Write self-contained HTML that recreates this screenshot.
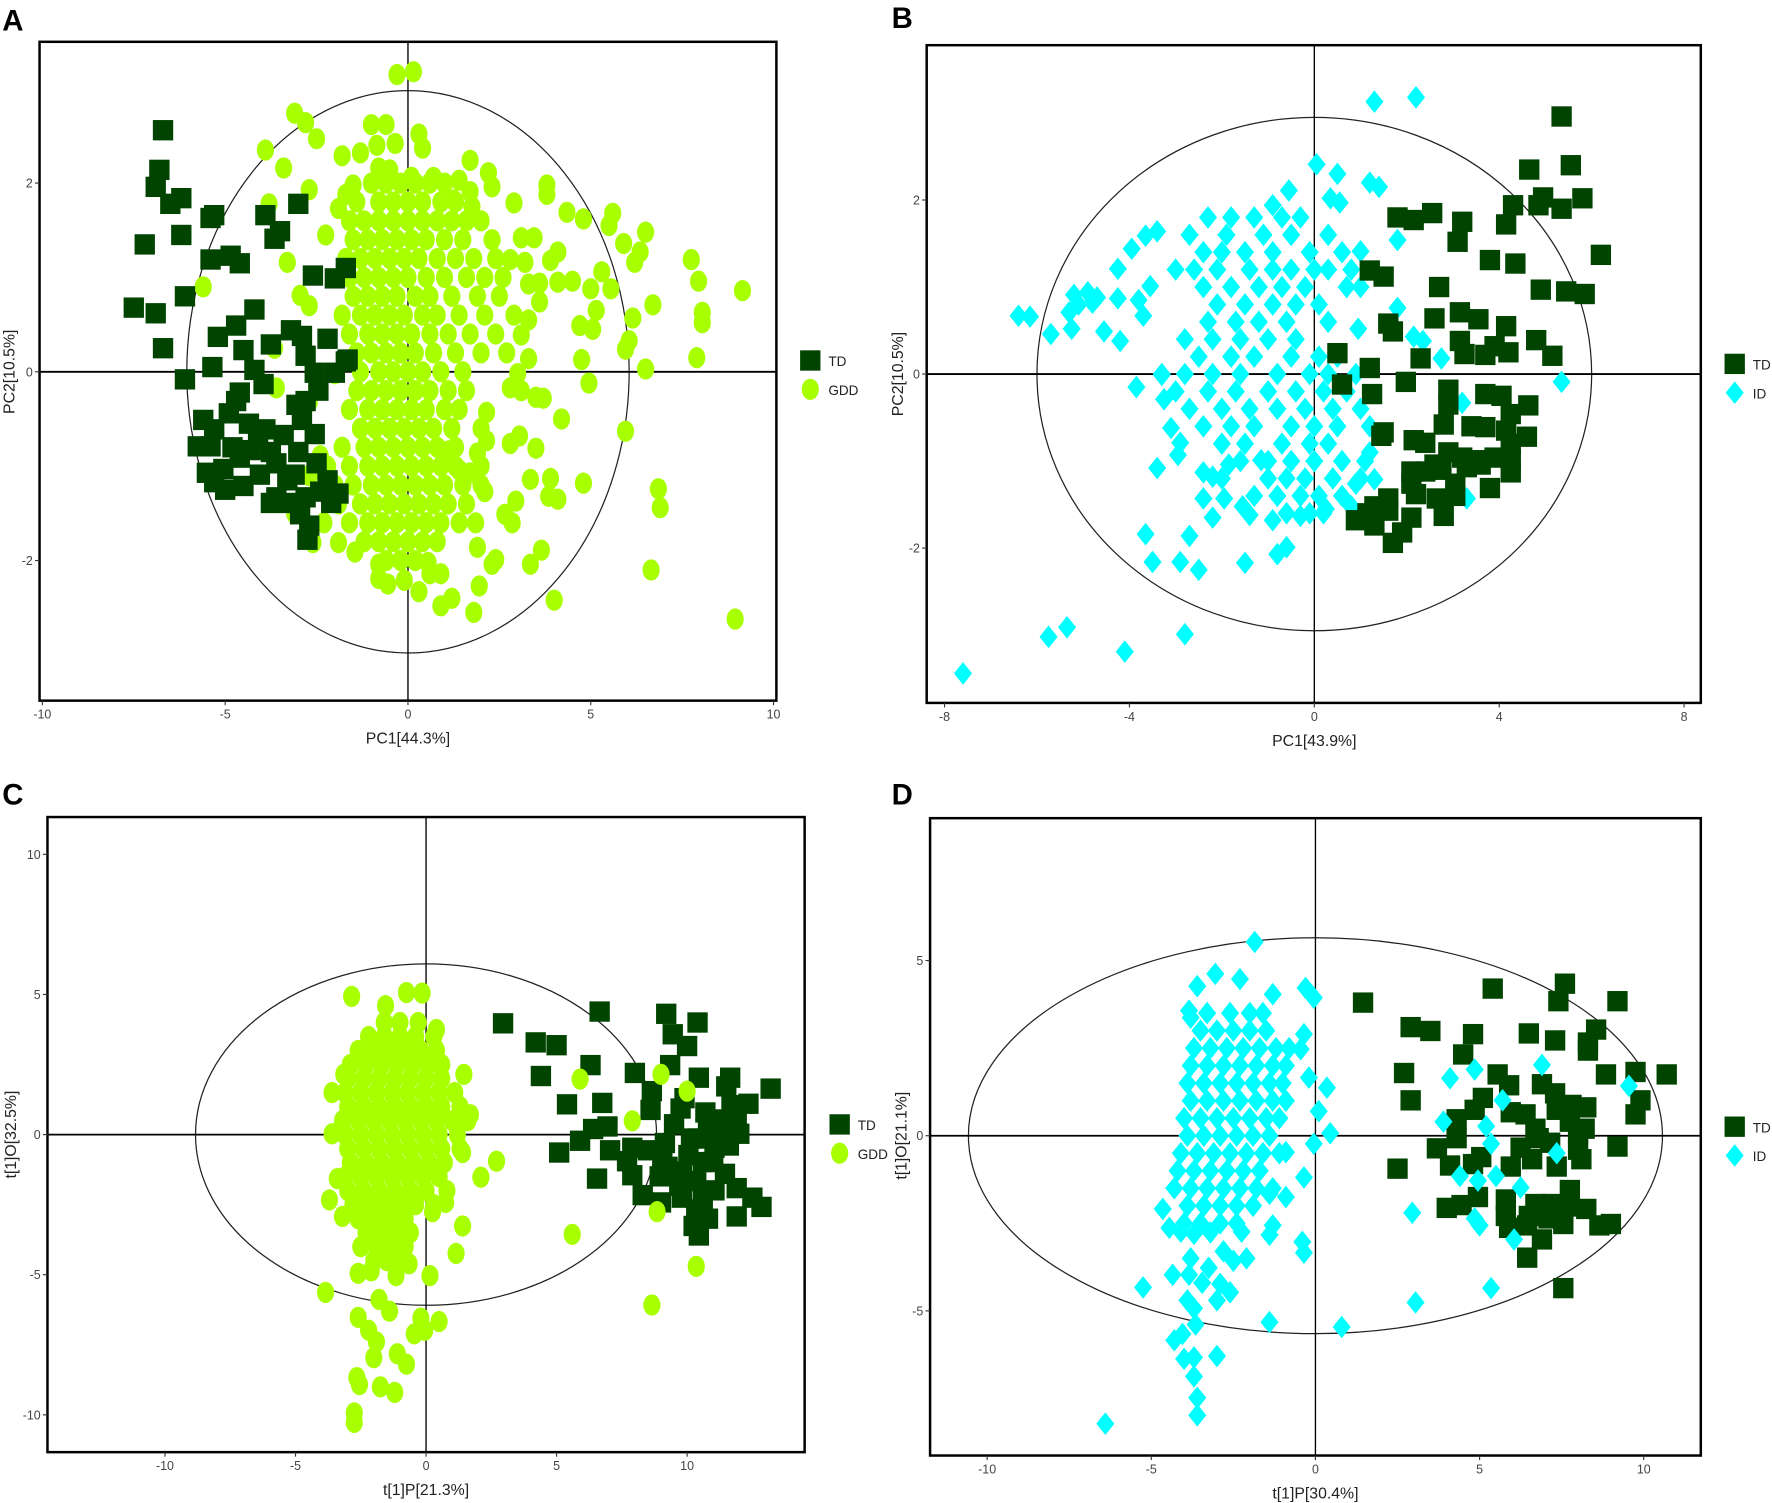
<!DOCTYPE html>
<html><head><meta charset="utf-8"><style>
html,body{margin:0;padding:0;background:#fff;}
svg{display:block;}
text{font-family:"Liberation Sans",sans-serif;}
</style></head><body>
<svg id="fig" width="1772" height="1503" viewBox="0 0 1568 1330" preserveAspectRatio="none" xmlns="http://www.w3.org/2000/svg"></svg>
<script>
// ---------- DATA (axis units) ----------
const tdA=[[-6.7,2.56],[-6.8,2.14],[-6.9,1.96],[-6.5,1.78],[-6.2,1.84],[-6.2,1.45],[-7.2,1.35],[-7.5,0.68],[-6.9,0.62],[-6.7,0.25],[-6.1,0.8],[-5.4,1.63],[-5.3,1.66],[-5.4,1.19],[-4.85,1.23],[-4.6,1.15],[-3.9,1.66],[-3.65,1.41],[-3.5,1.49],[-3.0,1.78],[-2.6,1.02],[-2.0,0.99],[-1.7,1.1],[-4.2,0.66],[-4.7,0.49],[-5.2,0.37],[-5.35,0.05],[-6.1,-0.08],[-4.5,0.23],[-3.75,0.29],[-3.2,0.44],[-2.9,0.38],[-2.8,0.17],[-2.2,0.35],[-1.7,0.11],[-2.0,-0.01],[-4.2,0.02],[-3.95,-0.13],[-4.7,-0.31],[-4.9,-0.44],[-5.6,-0.51],[-5.3,-0.61],[-5.75,-0.79],[-4.35,-0.55],[-3.9,-0.61],[-3.4,-0.67],[-3.05,-0.35],[-2.8,-0.31],[-2.45,-0.2],[-2.9,-0.51],[-2.55,-0.66],[-3.75,-0.85],[-4.3,-0.83],[-4.6,-0.91],[-5.3,-1.17],[-5.0,-1.25],[-4.5,-1.21],[-4.05,-1.09],[-3.6,-0.97],[-3.1,-1.09],[-2.5,-0.97],[-2.2,-1.15],[-1.9,-1.29],[-2.1,-1.39],[-2.7,-1.63],[-2.75,-1.78],[-3.2,-1.39],[-3.6,-1.33],[-2.8,-1.33],[-2.4,-1.27],[-5.4,-0.79],[-4.8,-0.8],[-4.1,-0.73],[-3.0,-0.85],[-3.3,-1.15],[-3.75,-1.39],[-2.95,-1.51],[-2.55,-0.01],[-1.65,0.13],[-4.6,-0.22],[-5.5,-1.07],[-5.05,-1.03]];
const gddA=[[-0.3,3.15],[0.15,3.18],[-3.1,2.74],[-2.8,2.64],[-2.5,2.47],[-3.9,2.35],[-3.4,2.16],[-1.0,2.62],[-0.6,2.62],[0.3,2.52],[0.4,2.37],[-0.35,2.42],[-0.85,2.4],[-1.3,2.32],[-1.8,2.29],[-0.8,2.16],[-0.5,2.14],[0.1,2.06],[0.7,2.06],[1.7,2.24],[2.2,2.11],[2.3,1.96],[1.4,2.03],[1.7,1.91],[1.25,1.82],[1.75,1.75],[2.9,1.79],[3.8,1.98],[3.8,1.88],[4.35,1.69],[4.8,1.62],[5.6,1.68],[5.5,1.55],[6.5,1.48],[5.9,1.36],[6.35,1.27],[6.2,1.16],[7.75,1.19],[7.95,0.96],[8.05,0.63],[8.05,0.52],[7.9,0.15],[9.15,0.86],[6.7,0.71],[6.15,0.57],[6.05,0.33],[5.95,0.24],[6.5,0.03],[5.95,-0.63],[5.0,0.88],[5.55,0.88],[5.3,1.06],[5.15,0.65],[4.7,0.49],[5.05,0.45],[4.75,0.13],[4.95,-0.12],[4.5,0.96],[4.1,0.95],[3.6,0.94],[3.3,0.93],[4.1,1.27],[3.9,1.18],[3.45,1.42],[3.1,1.42],[2.8,1.19],[3.2,1.16],[3.6,0.74],[3.3,0.55],[3.1,0.39],[3.3,0.14],[3.0,-0.02],[2.8,-0.17],[3.1,-0.2],[3.5,-0.27],[3.7,-0.28],[4.2,-0.5],[3.05,-0.68],[2.8,-0.76],[3.5,-0.81],[2.15,-0.43],[2.0,-0.6],[2.15,-0.73],[4.8,-1.18],[6.85,-1.24],[6.9,-1.44],[3.9,-1.13],[3.35,-1.14],[3.85,-1.32],[4.1,-1.35],[2.95,-1.37],[2.65,-1.51],[2.85,-1.6],[3.65,-1.89],[3.35,-2.04],[6.65,-2.1],[4.0,-2.42],[8.95,-2.62],[2.4,-1.99],[2.3,-2.04],[1.95,-2.27],[1.8,-2.55],[1.2,-2.4],[0.9,-2.48],[0.3,-2.33],[0.9,-2.14],[0.6,-2.14],[0.55,-2.02],[-0.1,-2.21],[-0.55,-2.25],[-0.8,-2.19],[-0.8,-2.04],[-1.45,-1.91],[-1.9,-1.81],[-2.6,-1.81],[-3.1,-1.5],[1.9,-1.86],[1.85,-1.6],[2.1,-1.27],[1.7,-1.07],[1.9,-0.86],[1.4,-1.04],[1.1,-0.84],[-3.65,0.25],[-3.3,1.16],[-2.95,0.81],[-2.7,0.7],[-5.6,0.9],[-3.6,-0.17],[-2.7,-0.32],[-2.5,-0.17],[-2.4,-0.89],[-2.7,-1.1],[-3.1,-1.46],[-2.25,1.45],[-1.7,1.88],[-1.5,1.98],[-1.9,1.73],[-2.0,-0.02],[-2.7,1.93],[-3.8,1.78],
[-1.0,2.0],[-0.6,2.0],[-0.2,2.0],[0.2,2.0],[0.6,2.0],[1.0,2.0],
[-1.4,1.8],[-0.8,1.8],[-0.4,1.8],[0.0,1.8],[0.4,1.8],[0.9,1.8],[1.3,1.8],
[-1.6,1.6],[-1.2,1.6],[-0.8,1.6],[-0.4,1.6],[0.0,1.6],[0.4,1.6],[0.8,1.6],[1.2,1.6],[1.6,1.6],[2.0,1.6],
[-1.5,1.4],[-1.1,1.4],[-0.7,1.4],[-0.3,1.4],[0.1,1.4],[0.5,1.4],[1.0,1.4],[1.5,1.4],[2.3,1.4],
[-1.7,1.2],[-1.3,1.2],[-0.9,1.2],[-0.5,1.2],[-0.1,1.2],[0.3,1.2],[0.8,1.2],[1.3,1.2],[1.8,1.2],[2.4,1.2],
[-1.6,1.0],[-1.2,1.0],[-0.8,1.0],[-0.4,1.0],[0.0,1.0],[0.5,1.0],[1.0,1.0],[1.6,1.0],[2.1,1.0],[2.6,1.0],
[-1.5,0.8],[-1.1,0.8],[-0.7,0.8],[-0.3,0.8],[0.2,0.8],[0.6,0.8],[1.2,0.8],[1.9,0.8],[2.5,0.8],
[-1.8,0.6],[-1.3,0.6],[-0.9,0.6],[-0.5,0.6],[-0.1,0.6],[0.4,0.6],[0.8,0.6],[1.4,0.6],[2.1,0.6],[2.9,0.6],
[-1.6,0.4],[-1.1,0.4],[-0.7,0.4],[-0.3,0.4],[0.1,0.4],[0.6,0.4],[1.1,0.4],[1.7,0.4],[2.4,0.4],
[-1.4,0.2],[-1.0,0.2],[-0.6,0.2],[-0.2,0.2],[0.2,0.2],[0.7,0.2],[1.3,0.2],[2.0,0.2],[2.7,0.2],
[-1.3,0.0],[-0.8,0.0],[-0.4,0.0],[0.0,0.0],[0.4,0.0],[0.9,0.0],[1.5,0.0],
[-1.4,-0.2],[-1.0,-0.2],[-0.6,-0.2],[-0.2,-0.2],[0.2,-0.2],[0.6,-0.2],[1.1,-0.2],[1.6,-0.2],
[-1.6,-0.4],[-1.1,-0.4],[-0.7,-0.4],[-0.3,-0.4],[0.1,-0.4],[0.5,-0.4],[1.0,-0.4],[1.4,-0.4],
[-1.3,-0.6],[-0.9,-0.6],[-0.5,-0.6],[-0.1,-0.6],[0.3,-0.6],[0.7,-0.6],[1.2,-0.6],
[-1.8,-0.8],[-1.2,-0.8],[-0.8,-0.8],[-0.4,-0.8],[0.0,-0.8],[0.4,-0.8],[0.8,-0.8],[1.3,-0.8],
[-2.2,-1.0],[-1.6,-1.0],[-1.1,-1.0],[-0.7,-1.0],[-0.3,-1.0],[0.1,-1.0],[0.5,-1.0],[0.9,-1.0],[1.3,-1.0],[2.0,-1.0],
[-2.0,-1.2],[-1.5,-1.2],[-1.0,-1.2],[-0.6,-1.2],[-0.2,-1.2],[0.2,-1.2],[0.6,-1.2],[1.0,-1.2],[1.5,-1.2],[2.0,-1.2],
[-1.9,-1.4],[-1.3,-1.4],[-0.9,-1.4],[-0.5,-1.4],[-0.1,-1.4],[0.3,-1.4],[0.7,-1.4],[1.1,-1.4],[1.6,-1.4],
[-2.3,-1.6],[-1.6,-1.6],[-1.1,-1.6],[-0.7,-1.6],[-0.3,-1.6],[0.1,-1.6],[0.5,-1.6],[0.9,-1.6],[1.4,-1.6],
[-1.2,-1.8],[-0.8,-1.8],[-0.4,-1.8],[0.0,-1.8],[0.4,-1.8],[0.8,-1.8],
[-0.6,-2.0],[-0.2,-2.0],[0.2,-2.0]];
const tdB=[[5.35,2.96],[5.55,2.4],[4.65,2.35],[4.95,2.03],[5.8,2.02],[5.35,1.9],[4.85,1.94],[4.3,1.94],[4.15,1.72],[6.2,1.37],[4.35,1.27],[3.8,1.31],[3.2,1.75],[3.1,1.52],[2.55,1.85],[2.15,1.77],[1.8,1.8],[4.9,0.97],[5.45,0.95],[5.85,0.92],[2.7,1.0],[1.2,1.19],[1.5,1.12],[3.15,0.71],[3.55,0.63],[4.15,0.55],[2.6,0.64],[1.6,0.58],[1.7,0.49],[4.8,0.39],[5.15,0.21],[4.2,0.25],[3.9,0.32],[3.7,0.22],[3.15,0.38],[3.25,0.23],[2.3,0.18],[0.5,0.24],[1.2,0.07],[0.6,-0.12],[1.98,-0.09],[1.25,-0.23],[2.9,-0.18],[2.9,-0.35],[3.7,-0.23],[4.05,-0.25],[4.63,-0.36],[4.25,-0.46],[2.8,-0.58],[3.4,-0.6],[3.7,-0.61],[4.15,-0.65],[4.6,-0.72],[1.5,-0.67],[1.45,-0.71],[2.15,-0.76],[2.4,-0.79],[4.25,-0.8],[2.9,-0.9],[3.2,-0.96],[3.55,-0.99],[3.9,-0.96],[4.25,-0.99],[2.6,-1.04],[3.3,-1.07],[3.6,-1.04],[2.1,-1.12],[2.4,-1.12],[2.75,-1.1],[4.25,-1.13],[2.1,-1.26],[3.05,-1.26],[3.8,-1.31],[2.2,-1.38],[2.65,-1.43],[3.05,-1.4],[1.6,-1.43],[1.3,-1.52],[1.6,-1.57],[1.15,-1.6],[0.9,-1.68],[1.3,-1.74],[2.1,-1.65],[2.8,-1.63],[1.9,-1.82],[1.7,-1.94]];
const idB=[[1.3,3.13],[2.2,3.18],[0.05,2.41],[0.5,2.3],[1.2,2.2],[1.4,2.15],[1.8,1.54],[-6.4,0.67],[-6.15,0.66],[-5.7,0.46],[-5.25,0.52],[-5.2,0.91],[-4.9,0.94],[-4.7,0.88],[-5.3,0.71],[-5.1,0.8],[-4.8,0.82],[-4.55,0.49],[-4.2,0.38],[-4.25,0.87],[-4.25,1.21],[-3.95,1.44],[-3.65,1.59],[-3.4,1.64],[-3.55,1.01],[-3.8,0.85],[-3.7,0.67],[-3.85,-0.15],[-3.3,-0.01],[-3.25,-0.29],[-3.1,-0.62],[-2.9,-0.79],[-2.95,-0.93],[-3.4,-1.08],[-3.65,-1.84],[-3.5,-2.16],[-2.7,-1.86],[-2.9,-2.16],[-2.5,-2.25],[-5.75,-3.02],[-5.35,-2.91],[-4.1,-3.19],[-2.8,-2.99],[-7.6,-3.44],[-1.5,-2.17],[-0.8,-2.07],[-0.6,-1.99],[-2.2,-1.65],[-2.4,-1.43],[-2.4,-1.13],[-2.2,-1.18],[-1.95,-1.43],[-1.55,-1.52],[-1.4,-1.62],[5.35,-0.09],[3.2,-0.33],[3.3,-1.43],[2.35,0.38],[2.15,0.43],[2.75,0.18],[1.8,0.76],[0.95,0.52],[1.3,-1.21],[1.2,-0.9],[0.9,-1.26],[0.8,-1.52],[0.25,-1.55],[-0.3,-1.63],[-0.9,-1.68],[-1.15,-0.99],[-1.85,-1.04],[-0.9,1.94],[-0.55,2.11],[0.35,2.02],[0.55,1.97],[1.0,1.41],
[-2.3,1.8],[-1.8,1.8],[-1.3,1.8],[-0.7,1.8],[-0.3,1.8],
[-2.7,1.6],[-1.9,1.6],[-1.1,1.6],[-0.5,1.6],[0.3,1.6],
[-2.4,1.4],[-2.0,1.4],[-1.5,1.4],[-0.9,1.4],[-0.1,1.4],[0.6,1.4],
[-3.0,1.2],[-2.6,1.2],[-2.1,1.2],[-1.4,1.2],[-0.9,1.2],[-0.5,1.2],[0.0,1.2],[0.3,1.2],[0.8,1.2],
[-2.4,1.0],[-1.8,1.0],[-1.2,1.0],[-0.7,1.0],[-0.2,1.0],[0.7,1.0],[1.0,1.0],
[-2.1,0.8],[-1.5,0.8],[-0.9,0.8],[-0.4,0.8],[0.1,0.8],
[-2.3,0.6],[-1.7,0.6],[-1.2,0.6],[-0.6,0.6],[0.3,0.6],
[-2.8,0.4],[-2.2,0.4],[-1.6,0.4],[-1.0,0.4],[-0.4,0.4],
[-2.5,0.2],[-1.8,0.2],[-1.3,0.2],[-0.5,0.2],[0.1,0.2],[0.5,0.2],
[-3.3,0.0],[-2.8,0.0],[-2.2,0.0],[-1.6,0.0],[-0.8,0.0],[-0.1,0.0],[0.3,0.0],[0.9,0.0],
[-3.0,-0.2],[-2.3,-0.2],[-1.7,-0.2],[-1.0,-0.2],[-0.4,-0.2],[0.2,-0.2],[0.7,-0.2],
[-2.7,-0.4],[-2.0,-0.4],[-1.4,-0.4],[-0.8,-0.4],[-0.2,-0.4],[0.4,-0.4],[1.0,-0.4],
[-2.4,-0.6],[-1.8,-0.6],[-1.3,-0.6],[-0.5,-0.6],[0.0,-0.6],[0.5,-0.6],[1.2,-0.6],
[-2.0,-0.8],[-1.5,-0.8],[-0.7,-0.8],[-0.1,-0.8],[0.3,-0.8],
[-1.6,-1.0],[-1.0,-1.0],[-0.5,-1.0],[0.0,-1.0],[0.6,-1.0],[1.1,-1.0],
[-2.0,-1.2],[-1.0,-1.2],[-0.6,-1.2],[-0.2,-1.2],[0.4,-1.2],[1.0,-1.2],
[-1.3,-1.4],[-0.8,-1.4],[-0.3,-1.4],[0.1,-1.4],[0.6,-1.4],
[-0.6,-1.6],[-0.1,-1.6],[0.2,-1.6]];
const tdC=[[2.95,3.97],[4.2,3.29],[5.0,3.19],[6.65,4.39],[9.2,4.31],[10.4,4.0],[9.45,3.58],[10.0,3.16],[6.3,2.48],[4.4,2.09],[8.0,2.2],[9.35,2.48],[10.45,2.03],[11.65,2.03],[11.5,1.72],[13.2,1.64],[5.4,1.08],[6.75,1.13],[8.65,1.55],[8.6,0.88],[9.75,0.93],[12.35,1.1],[11.9,0.71],[10.7,0.79],[9.5,0.37],[11.25,0.03],[12.0,0.03],[6.4,0.2],[6.95,0.29],[5.9,-0.22],[7.05,-0.56],[5.1,-0.64],[7.9,-0.47],[8.5,-0.56],[7.7,-0.95],[6.55,-1.57],[7.9,-1.45],[9.05,-0.81],[10.05,-0.73],[11.05,-0.47],[11.6,-0.39],[10.6,-0.98],[9.8,-1.32],[8.95,-1.49],[10.35,-1.66],[11.05,-1.99],[8.3,-2.16],[9.0,-2.42],[9.8,-2.25],[10.6,-2.33],[11.9,-1.91],[12.5,-2.25],[12.85,-2.58],[11.9,-2.92],[10.8,-3.0],[10.25,-3.26],[10.45,-3.6],[9.15,-0.3],[10.15,-0.14],[10.8,0.2],[9.25,-1.15],[9.7,-1.83],[10.35,-2.67],[11.25,0.54],[11.7,1.05],[9.9,1.3],[10.45,-0.14],[11.0,-0.98],[11.45,-1.4]];
const gddC=[[-2.85,4.93],[-0.75,5.07],[-0.15,5.05],[-1.55,4.6],[0.4,3.75],[1.45,2.15],[5.9,1.98],[9.0,2.15],[10.0,1.55],[7.9,0.49],[1.7,0.71],[1.4,-0.64],[2.7,-0.95],[2.1,-1.52],[1.4,-3.26],[1.15,-4.24],[5.6,-3.56],[8.85,-2.75],[10.35,-4.7],[8.65,-6.08],[-3.85,-5.63],[0.15,-5.03],[0.5,-6.67],[-0.2,-6.55],[-0.05,-6.98],[-0.45,-7.11],[-1.1,-7.82],[-0.75,-8.19],[-2.0,-7.96],[-2.65,-8.67],[-2.55,-8.92],[-1.75,-9.0],[-1.2,-9.2],[-2.75,-9.93],[-2.75,-10.27],[-2.6,-6.52],[-2.2,-6.98],[-1.9,-7.4],[-1.4,-6.3],[-1.8,-5.88],[-2.6,-4.95],[-2.1,-4.86],[-1.15,-5.03],[-0.65,-4.61],[-3.6,1.5],[-3.15,2.15],[-3.4,-1.57],[-3.7,-2.33],[-3.2,-2.92],[0.75,-2.42],[0.25,-2.75],[-3.6,0.03],
[-1.6,4.0],[-1.0,4.0],[-0.3,4.0],
[-2.2,3.5],[-1.6,3.5],[-1.0,3.5],[-0.4,3.5],[0.3,3.5],
[-2.6,3.0],[-2.0,3.0],[-1.4,3.0],[-0.8,3.0],[-0.2,3.0],[0.4,3.0],
[-2.9,2.5],[-2.3,2.5],[-1.7,2.5],[-1.1,2.5],[-0.5,2.5],[0.1,2.5],[0.6,2.5],
[-3.0,2.0],[-2.4,2.0],[-1.8,2.0],[-1.2,2.0],[-0.6,2.0],[0.0,2.0],[0.6,2.0],
[-3.1,1.5],[-2.5,1.5],[-1.9,1.5],[-1.3,1.5],[-0.7,1.5],[-0.1,1.5],[0.5,1.5],[1.1,1.5],
[-3.0,1.0],[-2.4,1.0],[-1.8,1.0],[-1.2,1.0],[-0.6,1.0],[0.0,1.0],[0.6,1.0],[1.3,1.0],
[-3.2,0.5],[-2.6,0.5],[-2.0,0.5],[-1.4,0.5],[-0.8,0.5],[-0.2,0.5],[0.4,0.5],[1.0,0.5],[1.6,0.5],
[-3.1,0.0],[-2.5,0.0],[-1.9,0.0],[-1.3,0.0],[-0.7,0.0],[-0.1,0.0],[0.5,0.0],[1.2,0.0],
[-3.0,-0.5],[-2.4,-0.5],[-1.8,-0.5],[-1.2,-0.5],[-0.6,-0.5],[0.0,-0.5],[0.6,-0.5],[1.3,-0.5],
[-2.9,-1.0],[-2.3,-1.0],[-1.7,-1.0],[-1.1,-1.0],[-0.5,-1.0],[0.1,-1.0],[0.7,-1.0],
[-3.1,-1.5],[-2.5,-1.5],[-1.9,-1.5],[-1.3,-1.5],[-0.7,-1.5],[-0.1,-1.5],[0.5,-1.5],
[-3.0,-2.0],[-2.4,-2.0],[-1.8,-2.0],[-1.2,-2.0],[-0.6,-2.0],[0.0,-2.0],[0.8,-2.0],
[-2.8,-2.5],[-2.2,-2.5],[-1.6,-2.5],[-1.0,-2.5],[-0.4,-2.5],[0.3,-2.5],
[-2.6,-3.0],[-2.0,-3.0],[-1.4,-3.0],[-0.8,-3.0],
[-2.3,-3.5],[-1.7,-3.5],[-1.1,-3.5],[-0.6,-3.5],
[-2.5,-4.0],[-1.9,-4.0],[-1.3,-4.0],[-0.8,-4.0],
[-2.0,-4.5],[-1.5,-4.5],[-0.9,-4.5]];
const tdD=[[1.45,3.8],[2.9,3.1],[3.5,2.99],[5.4,4.2],[7.6,4.34],[7.4,3.84],[9.2,3.84],[4.8,2.9],[6.5,2.92],[7.3,2.72],[8.55,3.03],[8.3,2.66],[8.3,2.43],[4.5,2.32],[2.7,1.79],[2.9,1.01],[5.55,1.75],[5.9,1.44],[6.9,1.47],[7.3,1.21],[8.85,1.75],[9.75,1.82],[10.7,1.75],[9.9,1.01],[9.75,0.61],[5.1,1.08],[4.85,0.74],[4.3,0.47],[4.3,-0.07],[5.95,0.67],[6.4,0.61],[7.35,0.74],[7.8,0.88],[8.25,0.81],[7.75,0.4],[8.2,0.2],[6.8,-0.07],[7.15,-0.2],[6.25,-0.34],[8.0,-0.4],[9.2,-0.31],[3.7,-0.36],[5.05,-0.61],[4.8,-0.81],[4.1,-0.85],[2.5,-0.94],[5.95,-0.88],[6.6,-0.67],[7.35,-0.88],[8.1,-0.67],[7.75,-1.55],[4.95,-1.75],[4.45,-1.98],[4.0,-2.06],[5.8,-1.82],[6.7,-1.95],[7.2,-1.95],[7.75,-2.02],[8.25,-2.09],[5.8,-2.29],[6.5,-2.29],[7.1,-2.36],[7.55,-2.52],[8.65,-2.56],[9.0,-2.52],[5.9,-2.63],[6.45,-2.56],[6.9,-2.96],[6.45,-3.48],[7.55,-4.35],[8.0,0.07],[6.7,0.2]];
const idD=[[-1.85,5.53],[-3.05,4.62],[-3.6,4.27],[-2.3,4.47],[-0.3,4.22],[-0.05,3.94],[-3.85,3.57],[-3.8,3.37],[-1.3,4.04],[-0.35,2.9],[-0.45,2.47],[-0.2,1.66],[0.35,1.37],[0.1,0.7],[0.45,0.07],[-0.05,-0.23],[-0.9,-0.47],[-0.35,-1.19],[-0.9,-1.75],[-1.4,-1.66],[-1.3,-2.56],[-1.4,-2.83],[-0.4,-3.03],[-0.35,-3.34],[6.9,2.02],[4.85,1.89],[4.1,1.64],[3.9,0.4],[5.2,0.27],[5.35,-0.23],[5.7,1.01],[4.4,-1.15],[4.95,-1.28],[5.5,-1.15],[6.25,-1.48],[7.35,-0.5],[4.85,-2.36],[5.0,-2.56],[6.05,-2.96],[9.55,1.42],[2.95,-2.2],[3.05,-4.76],[5.35,-4.35],[0.8,-5.46],[-1.4,-5.32],[-5.25,-4.33],[-4.65,-2.09],[-4.45,-2.63],[-4.35,-3.97],[-3.8,-3.5],[-3.85,-3.97],[-3.25,-3.77],[-3.45,-4.2],[-2.9,-4.23],[-2.6,-4.47],[-3.0,-4.7],[-3.9,-4.7],[-3.7,-4.93],[-3.65,-5.39],[-4.3,-5.84],[-4.05,-5.66],[-4.0,-6.37],[-3.7,-6.33],[-3.0,-6.29],[-3.7,-6.87],[-3.6,-7.48],[-3.6,-7.98],[-6.4,-8.22],[-2.8,-3.3],[-2.5,-3.57],[-2.1,-3.5],[-2.25,-2.74],[-3.2,-2.76],[-3.7,-2.8],[-4.1,-2.74],
[-3.3,3.5],[-2.6,3.5],[-2.0,3.5],[-1.6,3.5],
[-3.5,3.0],[-3.0,3.0],[-2.5,3.0],[-2.0,3.0],[-1.5,3.0],
[-3.7,2.5],[-3.2,2.5],[-2.7,2.5],[-2.2,2.5],[-1.7,2.5],[-1.2,2.5],[-0.8,2.5],
[-3.8,2.0],[-3.3,2.0],[-2.8,2.0],[-2.3,2.0],[-1.8,2.0],[-1.3,2.0],[-0.9,2.0],
[-3.9,1.5],[-3.4,1.5],[-2.9,1.5],[-2.4,1.5],[-1.9,1.5],[-1.4,1.5],[-1.0,1.5],
[-3.8,1.0],[-3.3,1.0],[-2.8,1.0],[-2.3,1.0],[-1.8,1.0],[-1.3,1.0],[-0.9,1.0],
[-4.0,0.5],[-3.5,0.5],[-3.0,0.5],[-2.5,0.5],[-2.0,0.5],[-1.5,0.5],[-1.1,0.5],
[-3.9,0.0],[-3.4,0.0],[-2.9,0.0],[-2.4,0.0],[-1.9,0.0],[-1.4,0.0],
[-4.1,-0.5],[-3.6,-0.5],[-3.1,-0.5],[-2.6,-0.5],[-2.1,-0.5],[-1.6,-0.5],[-1.1,-0.5],
[-4.2,-1.0],[-3.7,-1.0],[-3.2,-1.0],[-2.7,-1.0],[-2.2,-1.0],[-1.7,-1.0],
[-4.3,-1.5],[-3.8,-1.5],[-3.3,-1.5],[-2.8,-1.5],[-2.3,-1.5],[-1.8,-1.5],[-1.3,-1.5],
[-3.9,-2.0],[-3.4,-2.0],[-2.9,-2.0],[-2.4,-2.0],[-1.9,-2.0],
[-4.0,-2.5],[-3.5,-2.5],[-2.9,-2.5],[-2.4,-2.5]];
const ticksA_x=[-10,-5,0,5,10], ticksA_y=[-2,0,2];
const ticksB_x=[-8,-4,0,4,8], ticksB_y=[-2,0,2];
const ticksC_x=[-10,-5,0,5,10], ticksC_y=[-10,-5,0,5,10];
const ticksD_x=[-10,-5,0,5,10], ticksD_y=[-5,0,5];
const ellA=[6.05,2.98], ellB=[6.0,2.95], ellC=[8.83,6.09], ellD=[10.57,5.65];

// ---------- RENDER ----------
const NS='http://www.w3.org/2000/svg';
const svg=document.getElementById('fig');
const DARK='#004400', LIME='#a8ff00', CYAN='#00ffff';
function mk(tag,attrs,parent){const e=document.createElementNS(NS,tag);for(const k in attrs)e.setAttribute(k,attrs[k]);(parent||svg).appendChild(e);return e;}

function marker(g,shape,cx,cy,color){
  let e;
  if(shape==='square'){e=mk('rect',{x:cx-9,y:cy-9,width:18,height:18,fill:color},g);}
  else if(shape==='circle'){e=mk('ellipse',{cx:cx,cy:cy,rx:7.6,ry:9.4,fill:color},g);}
  else {e=mk('polygon',{points:`${cx},${cy-10} ${cx+8},${cy} ${cx},${cy+10} ${cx-8},${cy}`,fill:color},g);}
  return e;
}

function panel(p){
  const g=mk('g',{});
  
  
  const X=v=>p.x0+v*p.sx, Y=v=>p.y0-v*p.sy;
  const lab=mk('text',{x:p.lx,y:p.ly,'font-size':26,'font-weight':'bold',fill:'#000'},g);
  lab.textContent=p.id;
  
  
  const clip=mk('clipPath',{id:'clip'+p.id},g);
  mk('rect',{x:p.bx0,y:p.by0,width:p.bx1-p.bx0,height:p.by1-p.by0},clip);
  const pg=mk('g',{'clip-path':`url(#clip${p.id})`},g);
  
  
  const el=mk('ellipse',{cx:X(0),cy:Y(0),rx:p.ell[0]*p.sx,ry:p.ell[1]*p.sy,fill:'none',stroke:'#222','stroke-width':1.1},pg);
  
  
  const zx=mk('line',{x1:p.bx0,x2:p.bx1,y1:Y(0),y2:Y(0),stroke:'#000','stroke-width':1.6},pg);
  
  
  const zy=mk('line',{x1:X(0),x2:X(0),y1:p.by0,y2:p.by1,stroke:'#000','stroke-width':1.2},pg);
  
  
  p.series.forEach(s=>{
    const sg=mk('g',{},pg);
    
    
    s.data.forEach(d=>{
      const m=marker(sg,s.shape,X(d[0]),Y(d[1]),s.color);
      
      
    });
  });
  const fr=mk('rect',{x:p.bx0,y:p.by0,width:p.bx1-p.bx0,height:p.by1-p.by0,fill:'none',stroke:'#000','stroke-width':2.2},g);
  
  
  p.tx.forEach(t=>{
    mk('line',{x1:X(t),x2:X(t),y1:p.by1,y2:p.by1+4,stroke:'#333','stroke-width':1},g);
    const tt=mk('text',{x:X(t),y:p.by1+16,'font-size':11,'text-anchor':'middle',fill:'#444'},g);
    tt.textContent=t;
    
    
  });
  p.ty.forEach(t=>{
    mk('line',{x1:p.bx0-4,x2:p.bx0,y1:Y(t),y2:Y(t),stroke:'#333','stroke-width':1},g);
    const tt=mk('text',{x:p.bx0-6,y:Y(t)+4,'font-size':11,'text-anchor':'end',fill:'#444'},g);
    tt.textContent=t;
    
    
  });
  const xt=mk('text',{x:X(0),y:p.by1+38,'font-size':14,'text-anchor':'middle',fill:'#222'},g);
  xt.textContent=p.xtitle;
  
  
  const yt=mk('text',{x:0,y:0,'font-size':14,'text-anchor':'middle',fill:'#222',transform:`translate(${p.ytx},${Y(0)}) rotate(-90)`},g);
  yt.textContent=p.ytitle;
  
  
  p.legend.forEach((s,i)=>{
    const lg=mk('g',{},g);
    
    
    const ly=p.legy+i*25.5;
    marker(lg,s.shape,p.legx,ly,s.color);
    const lt=mk('text',{x:p.legx+16,y:ly+5,'font-size':12,fill:'#222'},lg);
    lt.textContent=s.name;
  });
}
const sTDA={name:'TD',shape:'square',color:DARK,data:tdA}, sGDDA={name:'GDD',shape:'circle',color:LIME,data:gddA};
const sTDB={name:'TD',shape:'square',color:DARK,data:tdB}, sIDB={name:'ID',shape:'diamond',color:CYAN,data:idB};
const sTDC={name:'TD',shape:'square',color:DARK,data:tdC}, sGDDC={name:'GDD',shape:'circle',color:LIME,data:gddC};
const sTDD={name:'TD',shape:'square',color:DARK,data:tdD}, sIDD={name:'ID',shape:'diamond',color:CYAN,data:idD};
panel({id:'A',lx:2,ly:27,bx0:35,bx1:687,by0:37,by1:620,x0:361,sx:32.35,y0:329,sy:83.5,ell:ellA,tx:ticksA_x,ty:ticksA_y,
  xtitle:'PC1[44.3%]',ytitle:'PC2[10.5%]',ytx:13,legx:717,legy:319,series:[sGDDA,sTDA],legend:[sTDA,sGDDA]});
panel({id:'B',lx:789,ly:25,bx0:820,bx1:1505,by0:40,by1:622,x0:1163,sx:40.9,y0:331,sy:77,ell:ellB,tx:ticksB_x,ty:ticksB_y,
  xtitle:'PC1[43.9%]',ytitle:'PC2[10.5%]',ytx:799,legx:1535,legy:322,series:[sIDB,sTDB],legend:[sTDB,sIDB]});
panel({id:'C',lx:2,ly:712,bx0:42,bx1:712,by0:723,by1:1285,x0:377,sx:23.1,y0:1004,sy:24.8,ell:ellC,tx:ticksC_x,ty:ticksC_y,
  xtitle:'t[1]P[21.3%]',ytitle:'t[1]O[32.5%]',ytx:14,legx:743,legy:995,series:[sTDC,sGDDC],legend:[sTDC,sGDDC]});
panel({id:'D',lx:789,ly:712,bx0:823,bx1:1505,by0:724,by1:1288,x0:1164,sx:29.05,y0:1005,sy:31,ell:ellD,tx:ticksD_x,ty:ticksD_y,
  xtitle:'t[1]P[30.4%]',ytitle:'t[1]O[21.1%]',ytx:802,legx:1535,legy:997,series:[sTDD,sIDD],legend:[sTDD,sIDD]});
</script>
</body></html>
